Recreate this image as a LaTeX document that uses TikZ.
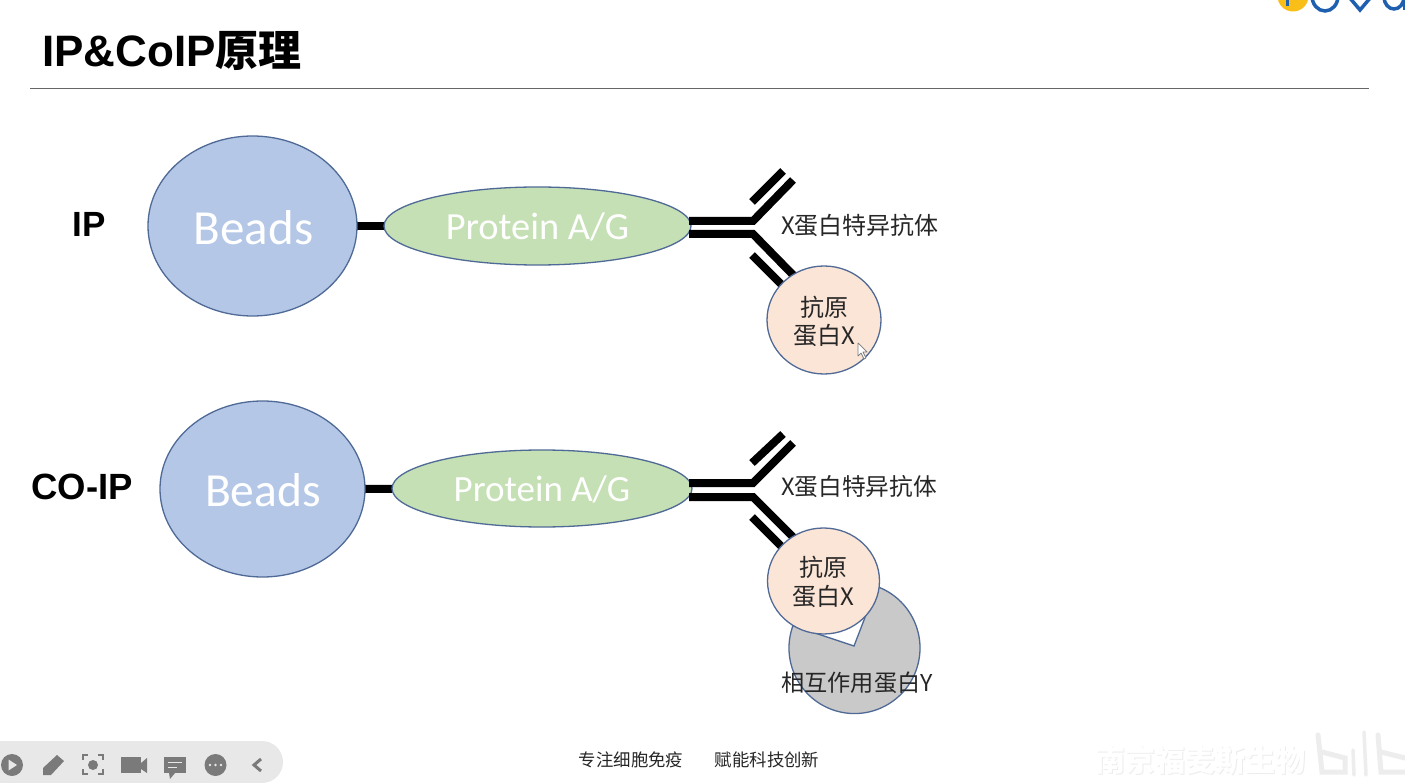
\documentclass[tikz,border=0pt]{standalone}
\usepackage{fontspec}
\setmainfont{Carlito}
\newfontfamily\cjk{Noto Sans CJK SC}
\newfontfamily\lat{Liberation Sans}
\definecolor{beadfill}{HTML}{B4C7E7}
\definecolor{protfill}{HTML}{C5E0B4}
\definecolor{xfill}{HTML}{FBE5D6}
\definecolor{yfill}{HTML}{C9C9C9}
\definecolor{edge}{HTML}{4F6A96}
\definecolor{barfill}{HTML}{E8E8E8}
\definecolor{icon}{HTML}{7A7A7A}
\definecolor{logoblue}{HTML}{1F5FAF}
\definecolor{logoyellow}{HTML}{F9BE18}
\definecolor{wmark}{HTML}{EDEDED}
\tikzset{
  x=1pt,y=-1pt,
  blob/.style={draw=edge,line width=1.3pt},
  beadtxt/.style={text=white,font=\fontsize{49}{49}\selectfont,inner sep=0},
  prottxt/.style={text=white,font=\fontsize{38.4}{38.4}\selectfont,inner sep=0},
  lab/.style={text=black!85,font=\cjk\fontsize{24}{28.5}\selectfont,inner sep=0,align=center},
  side/.style={inner sep=0},
  bond/.style={line width=8pt,black},
  ab/.style={line width=8pt,black,line join=miter},
}
\begin{document}
\begin{tikzpicture}
\useasboundingbox (0,0) rectangle (1405,783);
\fill[white] (0,0) rectangle (1405,783);
% logo
\begin{scope}
\clip (1250,0) rectangle (1405,30);
\fill[logoyellow] (1293,-4) circle[radius=15.5];
\draw[logoblue,line width=3pt] (1287,-4) -- (1287,6);
\draw[logoblue,line width=3.5pt] (1325,-4) ellipse[x radius=13,y radius=15];
\draw[logoblue,line width=3.5pt] (1349,-3) -- (1360,10) -- (1371,-3);
\draw[logoblue,line width=3.5pt] (1394,-3) ellipse[x radius=10,y radius=12];
\draw[logoblue,line width=3.5pt] (1405,-5) -- (1405,10);
\end{scope}
% title
\node[font=\lat\bfseries\fontsize{44}{44}\selectfont,anchor=base west,inner sep=0] (title) at (42,67) {IP\&CoIP{\cjk\bfseries\fontsize{43}{43}\selectfont 原理}};
\coordinate (ruleL) at (30,88); \coordinate (ruleR) at (1369,88);
\draw[gray!80!black,line width=.9pt] (ruleL) -- (ruleR);
% side labels
\node[side,font=\lat\bfseries\fontsize{35}{35}\selectfont] (ip) at (89,224) {IP};
\node[side,font=\lat\bfseries\fontsize{36.5}{36.5}\selectfont] (coip) at (82,487) {CO-IP};
% IP row
\coordinate (b1c) at (252.5,226); \coordinate (p1c) at (537.5,226);
\draw[bond] (b1c) -- (p1c);
\draw[blob,fill=beadfill] (b1c) ellipse[x radius=104.5,y radius=90];
\draw[blob,fill=protfill] (p1c) ellipse[x radius=153.5,y radius=39];
\node[beadtxt] (beads1) at (253.5,228) {Beads};
\node[prottxt] (prot1) at (537.5,227) {Protein A/G};
\coordinate (a1u) at (753,221); \coordinate (a1l) at (753,234);
\coordinate (a1ue) at (793,180); \coordinate (a1le) at (797,279);
\coordinate (a1ul) at (689,221); \coordinate (a1ll) at (689,234);
\coordinate (a1s1) at (752,202); \coordinate (a1s2) at (783,171);
\coordinate (a1s3) at (752,255); \coordinate (a1s4) at (785,288);
\draw[ab] (a1ul) -- (a1u) -- (a1ue);
\draw[ab] (a1ll) -- (a1l) -- (a1le);
\draw[ab] (a1s1) -- (a1s2);
\draw[ab] (a1s3) -- (a1s4);
\draw[blob,fill=xfill] (824,320) ellipse[x radius=57,y radius=54];
\node[lab] (x1) at (824,321.5) {抗原\\蛋白X};
\node[lab,anchor=west] (ab1) at (781,225) {X蛋白特异抗体};
% cursor
\draw[icon,fill=white,line width=.7pt,line join=round] (858,343) -- (858,356) -- (861,353) -- (864,359) -- (866,358) -- (863,352) -- (867,352) -- cycle;
% CO-IP row
\coordinate (b2c) at (262.5,489); \coordinate (p2c) at (542,488.5);
\draw[bond] (b2c) -- (p2c);
\draw[blob,fill=beadfill] (b2c) ellipse[x radius=102.5,y radius=88];
\draw[blob,fill=protfill] (p2c) ellipse[x radius=150,y radius=38.5];
\node[beadtxt,font=\fontsize{47.5}{47.5}\selectfont] (beads2) at (263,490) {Beads};
\node[prottxt,font=\fontsize{37}{37}\selectfont] (prot2) at (542,489) {Protein A/G};
\coordinate (a2u) at (753,483); \coordinate (a2l) at (753,497);
\coordinate (a2ue) at (793,443); \coordinate (a2le) at (797,541);
\coordinate (a2ul) at (689,483); \coordinate (a2ll) at (689,497);
\coordinate (a2s1) at (752,463); \coordinate (a2s2) at (783,434);
\coordinate (a2s3) at (752,517); \coordinate (a2s4) at (785,550);
\draw[ab] (a2ul) -- (a2u) -- (a2ue);
\draw[ab] (a2ll) -- (a2l) -- (a2le);
\draw[ab] (a2s1) -- (a2s2);
\draw[ab] (a2s3) -- (a2s4);
% pie with notch
\draw[blob,fill=yfill] (854,646) -- (876.9,586.5) arc[start angle=-70,end angle=200,radius=65.5] -- cycle;
\draw[blob,fill=xfill] (823.5,581) ellipse[x radius=56,y radius=53];
\node[lab] (x2) at (823.5,582) {抗原\\蛋白X};
\node[lab,anchor=west,font=\cjk\fontsize{23.7}{28}\selectfont] (ab2) at (781,487) {X蛋白特异抗体};
\node[lab,anchor=west,font=\cjk\fontsize{23.2}{28}\selectfont] (yl) at (781,683) {相互作用蛋白Y};
% footer
\node[font=\cjk\fontsize{17.4}{18}\selectfont,text=black!85,inner sep=0] (f1) at (631,760) {专注细胞免疫};
\node[font=\cjk\fontsize{17.4}{18}\selectfont,text=black!85,inner sep=0] (f2) at (767,760) {赋能科技创新};
% toolbar
\fill[barfill] (0,741) -- (262,741) arc[start angle=-90,end angle=90,radius=21] -- (0,783) -- cycle;
\fill[icon] (12,765) circle[radius=11];
\fill[barfill] (8.5,759.5) -- (8.5,770.5) -- (17,765) -- cycle;
\fill[icon] (43,768) -- (57,755) -- (64,761) -- (51,775) -- (43,775) -- cycle;
\draw[icon,line width=2.2pt] (83,760) -- (83,755) -- (88,755) (98,755) -- (103,755) -- (103,760) (103,769) -- (103,774) -- (98,774) (88,774) -- (83,774) -- (83,769);
\fill[icon] (93,765) circle[radius=5];
\fill[icon] (121,757) rectangle (141,773);
\fill[icon] (141,763) -- (147,758) -- (147,773) -- (141,769) -- cycle;
\fill[icon] (164,757) rectangle (186,773);
\fill[icon] (169,773) -- (175,773) -- (170,779) -- cycle;
\draw[barfill,line width=1pt] (168,762) -- (182,762) (168,767) -- (177,767);
\fill[icon] (215.5,765) circle[radius=11];
\fill[barfill] (210,765) circle[radius=1.4] (215.5,765) circle[radius=1.4] (221,765) circle[radius=1.4];
\draw[icon,line width=3pt] (261,759) -- (254,765) -- (261,771);
% watermark
\node[font=\cjk\bfseries\fontsize{30}{30}\selectfont,text=wmark,inner sep=0] (wms) at (1201,761) {南京福麦斯生物};
\node[font=\cjk\bfseries\fontsize{30}{30}\selectfont,text=white,inner sep=0] (wm) at (1200,760) {南京福麦斯生物};
\begin{scope}
\clip (1300,725) rectangle (1405,783);
\draw[wmark,line width=5pt,line cap=round] (1318,735) -- (1322,772) -- (1345,772) -- (1345,758) -- (1322,752);
\draw[wmark,line width=3.5pt,line cap=round] (1353,750) -- (1354,775) (1364,732) -- (1366,775);
\draw[wmark,line width=5pt,line cap=round] (1378,735) -- (1381,772) -- (1405,772) (1381,752) -- (1405,758);
\end{scope}
\end{tikzpicture}
\end{document}
